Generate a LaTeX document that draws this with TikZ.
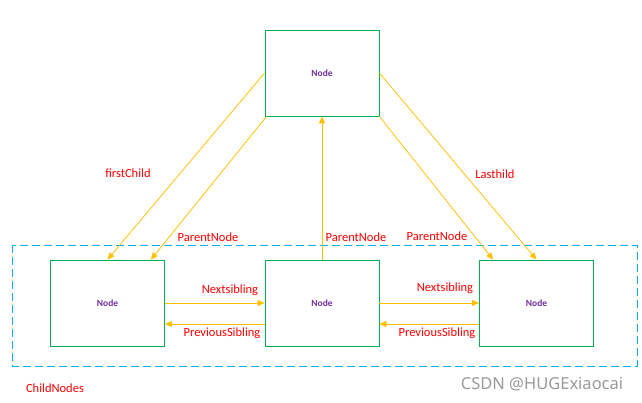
\documentclass[tikz,border=0pt]{standalone}
\usepackage{fontspec}
\setmainfont{Carlito}
\newfontfamily\wmfont{Noto Sans}
\usetikzlibrary{arrows.meta}
\definecolor{boxgreen}{HTML}{00B050}
\definecolor{arrowyellow}{HTML}{FFC000}
\definecolor{labelred}{HTML}{FF0000}
\definecolor{nodepurple}{HTML}{7030A0}
\definecolor{dashblue}{HTML}{00B0F0}
\definecolor{wmgray}{HTML}{9A9A9A}
\tikzset{
  nodebox/.style={draw=boxgreen, line width=0.8pt, minimum width=114pt, minimum height=86pt, inner sep=0pt,
    font=\fontsize{9.5}{11}\selectfont\bfseries, text=nodepurple},
  link/.style={draw=arrowyellow, line width=0.75pt, -{Triangle[length=7pt,width=6pt]}},
  lbl/.style={text=labelred, font=\fontsize{12.5}{14}\selectfont, inner sep=0pt},
  group/.style={draw=dashblue, line width=0.9pt, dash pattern=on 8pt off 4pt}
}
\begin{document}
\begin{tikzpicture}[x=1pt,y=-1pt]
\useasboundingbox (0,0) rectangle (642,402);
\fill[white] (0,0) rectangle (642,402);
% group frame
\draw[group] (12,245) rectangle (637,366);
% nodes
\node[nodebox] (top) at (322,73) {Node};
\node[nodebox] (left) at (107.5,303) {Node};
\node[nodebox] (mid) at (322,303) {Node};
\node[nodebox] (right) at (536.5,303) {Node};
% coordinates on boxes
\coordinate (topL) at (top.west);
\coordinate (topR) at (top.east);
\coordinate (topBL) at ([xshift=2pt]top.south west);
\coordinate (topBR) at (top.south east);
\coordinate (leftA) at (left.north);
\coordinate (leftB) at ([xshift=-14pt]left.north east);
\coordinate (rightA) at ([xshift=14pt]right.north west);
\coordinate (rightB) at (right.north);
% connectors
\draw[link] (topL) -- (leftA);
\draw[link] (topBL) -- (leftB);
\draw[link] (mid.north) -- (top.south);
\draw[link] (topBR) -- (rightA);
\draw[link] (topR) -- (rightB);
\draw[link] (left.east) -- (mid.west);
\draw[link] ([yshift=-21pt]mid.west) -- ([yshift=-21pt]left.east);
\draw[link] (mid.east) -- (right.west);
\draw[link] ([yshift=-21pt]right.west) -- ([yshift=-21pt]mid.east);
% labels
\node[lbl] (lfc) at (128,173) {firstChild};
\node[lbl] (llc) at (495,174) {Lasthild};
\node[lbl] (lp1) at (208,237) {ParentNode};
\node[lbl] (lp2) at (356,237) {ParentNode};
\node[lbl] (lp3) at (437,236) {ParentNode};
\node[lbl] (ln1) at (230,290) {Nextsibling};
\node[lbl] (lps1) at (222,333) {PreviousSibling};
\node[lbl] (ln2) at (445,288) {Nextsibling};
\node[lbl] (lps2) at (437,333) {PreviousSibling};
\node[lbl] (lcn) at (55,388) {ChildNodes};
\node[text=wmgray, font=\wmfont\fontsize{16.5}{18}\selectfont, inner sep=0pt] (wm) at (542,384) {CSDN @HUGExiaocai};
\end{tikzpicture}
\end{document}
